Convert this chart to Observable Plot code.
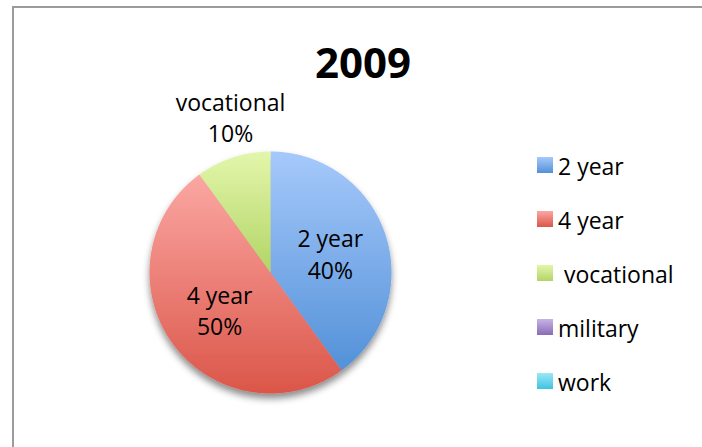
<!DOCTYPE html>
<html>
<head>
<meta charset="utf-8">
<script src="https://cdn.jsdelivr.net/npm/d3@7"></script>
<script src="https://cdn.jsdelivr.net/npm/@observablehq/plot@0.6"></script>
<style>
  body { margin: 0; background: #fff; font-family: "Open Sans", sans-serif; }
  #wrap { position: relative; width: 702px; height: 447px; overflow: hidden; background: #fff; }
  #frame { position: absolute; left: 12px; top: 6px; width: 900px; height: 700px;
           border-left: 2px solid #9b9b9b; border-top: 2px solid #9b9b9b; }
  #chart { position: absolute; left: 0; top: 0; }
  #title { position: absolute; left: 0; width: 726px; top: 41px; text-align: center;
           font-weight: 700; font-size: 42px; line-height: 42px; color: #000; }
  #legend { position: absolute; left: 537px; top: 0; }
  .row { position: absolute; left: 0; height: 23px; white-space: nowrap; }
  .sw { position: absolute; left: 0; top: 3.5px; width: 16px; height: 16px; }
  .lt { position: absolute; left: 21px; top: 1px; font-size: 23px; line-height: 23px; color: #000; white-space: pre; }
</style>
</head>
<body>
<div id="wrap">
  <div id="frame"></div>
  <div id="chart"></div>
  <div id="title"></div>
  <div id="legend"></div>
</div>
<script>
// ---- data ----
const chartTitle = "2009";
const categories = ["2 year", "4 year", " vocational", "military", "work"];
const values = [40, 50, 10, 0, 0];
const gradTop = ["#a6c9fb", "#fba7a3", "#e3f6ab", "#c6b4e6", "#9ae8f7"];
const gradBottom = ["#5391d8", "#db5649", "#b2d566", "#8a6bb5", "#3fc3e0"];

// ---- layout ----
const W = 702, H = 447;
const cx = 270, cy = 272, R = 121;

document.getElementById("title").textContent = chartTitle;

const total = d3.sum(values);
const arcs = d3.pie().sort(null).startAngle(0).endAngle(2 * Math.PI)(values);

// slice polygons (angles clockwise from top; y is up in data space)
const slicePts = [];
const labelsIn = [];
const labelsOut = [];
arcs.forEach((a, i) => {
  if (values[i] <= 0) return;
  const fill = `url(#grad${i})`;
  slicePts.push({key: i, fill, x: 0, y: 0});
  const n = Math.max(2, Math.ceil((a.endAngle - a.startAngle) / (Math.PI / 360)));
  for (let k = 0; k <= n; k++) {
    const t = a.startAngle + (a.endAngle - a.startAngle) * k / n;
    slicePts.push({key: i, fill, x: R * Math.sin(t), y: R * Math.cos(t)});
  }
  slicePts.push({key: i, fill, x: 0, y: 0});
  const mid = (a.startAngle + a.endAngle) / 2;
  const share = values[i] / total;
  const outside = share < 0.15;
  const f = outside ? 1.31 : 0.52;
  (outside ? labelsOut : labelsIn).push({
    x: f * R * Math.sin(mid),
    y: f * R * Math.cos(mid),
    text: categories[i].trim() + "\n" + Math.round(share * 100) + "%"
  });
});

const textOpts = {x: "x", y: "y", text: "text", fontSize: 23, lineHeight: 1.35,
                  fontFamily: "Open Sans", fill: "#000"};

const svg = Plot.plot({
  width: W, height: H, margin: 0,
  x: {domain: [-cx, W - cx], axis: null},
  y: {domain: [-(H - cy), cy], axis: null},
  color: {type: "identity"},
  style: {background: "transparent", overflow: "visible"},
  marks: [
    Plot.line(slicePts, {x: "x", y: "y", z: "key", fill: "fill", stroke: "none", curve: "linear"}),
    Plot.text(labelsIn, textOpts),
    Plot.text(labelsOut, {...textOpts, dx: 9, dy: -5})
  ]
});

// gradients + drop shadow
const s = d3.select(svg);
const defs = s.insert("defs", ":first-child");
categories.forEach((c, i) => {
  const g = defs.append("linearGradient").attr("id", `grad${i}`)
    .attr("x1", 0).attr("y1", 0).attr("x2", 0).attr("y2", 1);
  g.append("stop").attr("offset", "0%").attr("stop-color", gradTop[i]);
  g.append("stop").attr("offset", "100%").attr("stop-color", gradBottom[i]);
});
const flt = defs.append("filter").attr("id", "shadow")
  .attr("x", "-20%").attr("y", "-20%").attr("width", "140%").attr("height", "140%");
flt.append("feDropShadow").attr("dx", 0).attr("dy", 5).attr("stdDeviation", 3.5)
  .attr("flood-color", "#000").attr("flood-opacity", 0.45);
s.select('g[aria-label="line"]').attr("filter", "url(#shadow)");

document.getElementById("chart").appendChild(svg);

// legend
const legend = d3.select("#legend");
categories.forEach((c, i) => {
  const centerY = 165 + 54 * i;
  const row = legend.append("div").attr("class", "row").style("top", (centerY - 11.5) + "px");
  row.append("div").attr("class", "sw")
    .style("background", `linear-gradient(to bottom, ${gradTop[i]}, ${gradBottom[i]})`);
  row.append("span").attr("class", "lt").text(c);
});
</script>
</body>
</html>
